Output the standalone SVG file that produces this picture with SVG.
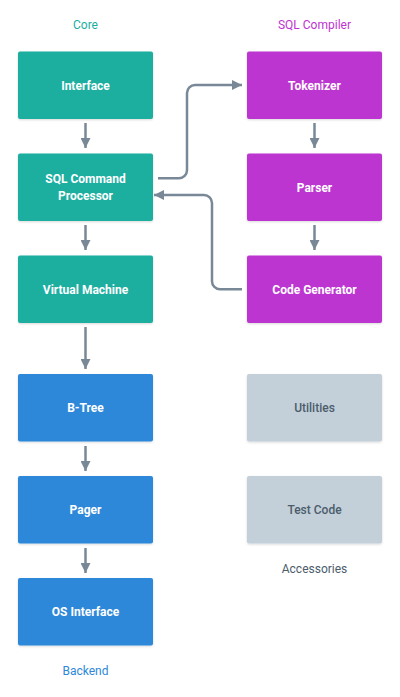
<svg xmlns="http://www.w3.org/2000/svg" width="400" height="697" viewBox="0 0 400 697">
<style>
.box{filter:url(#sh)}
.t{font-family:Roboto,"Liberation Sans",sans-serif;font-size:12px;font-weight:bold;fill:#fff;text-anchor:middle}
.g{fill:#4b5c6b;font-weight:500}
.lbl{font-family:Roboto,"Liberation Sans",sans-serif;font-size:12px;text-anchor:middle}
.c{fill:none;stroke:#788896;stroke-width:2.5;marker-end:url(#ah)}
</style>
<defs>
<filter id="sh" x="-10%" y="-10%" width="120%" height="130%"><feDropShadow dx="0" dy="1" stdDeviation="1" flood-color="#000" flood-opacity="0.15"/></filter>
<marker id="ah" viewBox="0 0 10 10" refX="10" refY="5" markerWidth="4" markerHeight="4" orient="auto" markerUnits="strokeWidth"><path d="M0,0L10,5L0,10z" fill="#788896"/></marker>
</defs>
<rect width="400" height="697" fill="#fff"/>
<text class="lbl" x="85.5" y="29" fill="#1aae9f">Core</text>
<text class="lbl" x="314.5" y="29" fill="#bd34d1">SQL Compiler</text>
<text class="lbl" x="85.5" y="675" fill="#2d88d9">Backend</text>
<text class="lbl" x="314.5" y="573" fill="#4b5c6b">Accessories</text>
<g id="interface"><rect class="box" x="18" y="51.5" width="135" height="67.5" rx="2" fill="#1aae9f"/><text class="t" x="85.5" y="89.5">Interface</text></g>
<g id="sqlcmd"><rect class="box" x="18" y="153.5" width="135" height="67.5" rx="2" fill="#1aae9f"/><text class="t" x="85.5" y="182.5">SQL Command</text><text class="t" x="85.5" y="200">Processor</text></g>
<g id="vm"><rect class="box" x="18" y="255.5" width="135" height="67.5" rx="2" fill="#1aae9f"/><text class="t" x="85.5" y="293.5">Virtual Machine</text></g>
<g id="btree"><rect class="box" x="18" y="374" width="135" height="67.5" rx="2" fill="#2d88d9"/><text class="t" x="85.5" y="412">B-Tree</text></g>
<g id="pager"><rect class="box" x="18" y="476" width="135" height="67.5" rx="2" fill="#2d88d9"/><text class="t" x="85.5" y="514">Pager</text></g>
<g id="os"><rect class="box" x="18" y="578" width="135" height="67.5" rx="2" fill="#2d88d9"/><text class="t" x="85.5" y="616">OS Interface</text></g>
<g id="tokenizer"><rect class="box" x="247" y="51.5" width="135" height="67.5" rx="2" fill="#bd34d1"/><text class="t" x="314.5" y="89.5">Tokenizer</text></g>
<g id="parser"><rect class="box" x="247" y="153.5" width="135" height="67.5" rx="2" fill="#bd34d1"/><text class="t" x="314.5" y="191.5">Parser</text></g>
<g id="codegen"><rect class="box" x="247" y="255.5" width="135" height="67.5" rx="2" fill="#bd34d1"/><text class="t" x="314.5" y="293.5">Code Generator</text></g>
<g id="utilities"><rect class="box" x="247" y="374" width="135" height="67.5" rx="2" fill="#c3cfd9"/><text class="t g" x="314.5" y="412">Utilities</text></g>
<g id="testcode"><rect class="box" x="247" y="476" width="135" height="67.5" rx="2" fill="#c3cfd9"/><text class="t g" x="314.5" y="514">Test Code</text></g>
<g id="connectors">
<path class="c" d="M85.5,123V148"/>
<path class="c" d="M85.5,225V250"/>
<path class="c" d="M85.5,327V369"/>
<path class="c" d="M85.5,446V471"/>
<path class="c" d="M85.5,548V573"/>
<path class="c" d="M314.5,123V148"/>
<path class="c" d="M314.5,225V250"/>
<path class="c" d="M158,178.3H179a8,8 0 0 0 8,-8V93a8,8 0 0 1 8,-8H242"/>
<path class="c" d="M242,289.3H220a8,8 0 0 1 -8,-8V203a8,8 0 0 0 -8,-8H154"/>
</g>
</svg>
